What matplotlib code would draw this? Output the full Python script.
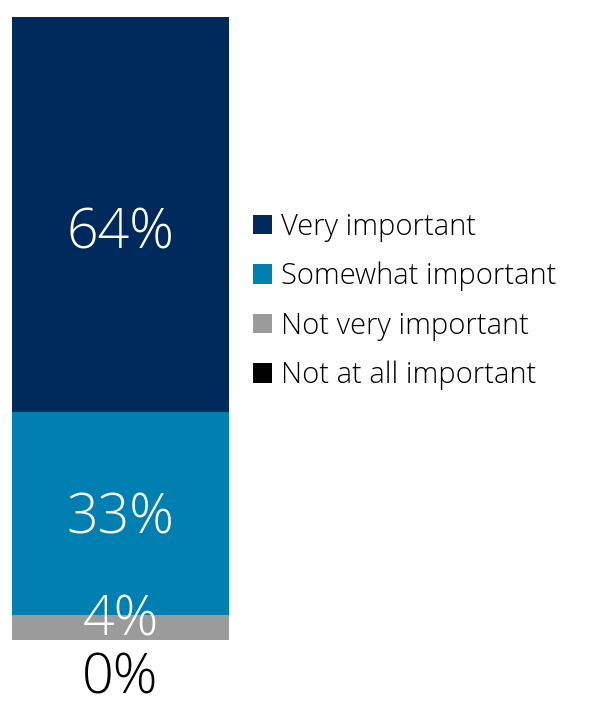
import matplotlib.pyplot as plt
from matplotlib.patches import Patch

# Survey answer shares (percent)
categories = ['Very important', 'Somewhat important', 'Not very important', 'Not at all important']
values = [64, 33, 4, 0]
colors = ['#002a5c', '#0080b0', '#9b9b9b', '#000000']

plt.rcParams['font.family'] = ['Open Sans', 'DejaVu Sans']

fig = plt.figure(figsize=(5.9, 7.1), dpi=100)
ax = fig.add_axes([12 / 590, 70 / 710, 217 / 590, 623 / 710])

# Stack from the bottom: not at all, not very, somewhat, very
order = [3, 2, 1, 0]
bottom = 0
centers = {}
for i in order:
    ax.bar(0, values[i], width=1, bottom=bottom, color=colors[i], linewidth=0)
    centers[i] = bottom + values[i] / 2
    bottom += values[i]

ax.set_xlim(-0.5, 0.5)
ax.set_ylim(0, sum(values))
ax.axis('off')

# Value labels
lbl = dict(ha='center', va='center', fontsize=40, fontweight='light', clip_on=False)
ax.text(0, centers[0] - 3.1, f'{values[0]}%', color='white', **lbl)
ax.text(0, centers[1] - 0.9, f'{values[1]}%', color='white', **lbl)
ax.text(0, centers[2] + 1.1, f'{values[2]}%', color='white', **lbl)
ax.text(0, -6.3, f'{values[3]}%', color='black', **lbl)

handles = [Patch(facecolor=c, edgecolor='none') for c in colors]
fig.legend(handles, categories, loc='upper left', bbox_to_anchor=(253 / 590, 1 - 212 / 710),
           frameon=False, prop={'size': 21, 'weight': 'light'},
           handlelength=0.65, handleheight=0.65,
           handletextpad=0.3, labelspacing=0.69, borderaxespad=0, borderpad=0)

fig.savefig('out.png', dpi=100)
